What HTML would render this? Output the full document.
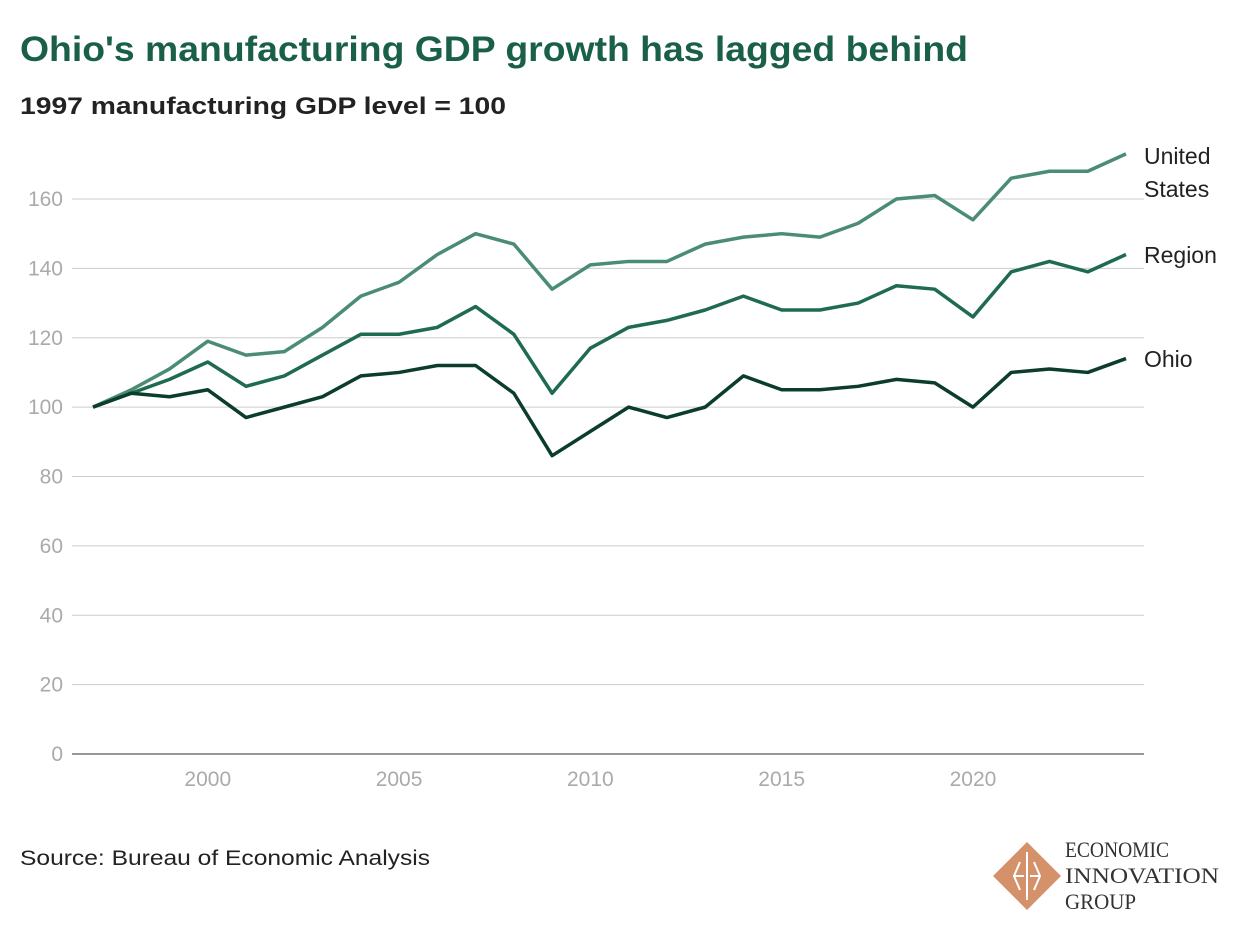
<!DOCTYPE html>
<html><head><meta charset="utf-8"><style>
body{margin:0;background:#fff;width:1240px;height:930px;overflow:hidden;font-family:"Liberation Sans",sans-serif}
</style></head><body>
<svg width="1240" height="930" xmlns="http://www.w3.org/2000/svg">
<text x="20" y="61" font-size="35" font-weight="bold" fill="#1a6048" textLength="948" lengthAdjust="spacingAndGlyphs">Ohio's manufacturing GDP growth has lagged behind</text>
<text x="20" y="114" font-size="24" font-weight="bold" fill="#222" textLength="486" lengthAdjust="spacingAndGlyphs">1997 manufacturing GDP level = 100</text>
<g id="grid"></g><g id="lines"></g>
<text x="20" y="865" font-size="21" fill="#222" textLength="410" lengthAdjust="spacingAndGlyphs">Source: Bureau of Economic Analysis</text>
<g>
<polygon points="1027,842 1061,876 1027,910 993,876" fill="#d4916a"/>
<path d="M1020,862 L1014,876 L1020,890 M1034,862 L1040,876 L1034,890 M1027,852 L1027,900 M1014,876 L1024,876 M1030,876 L1040,876" stroke="#fff" stroke-width="2" fill="none"/>
<text x="1065" y="857" font-family="Liberation Serif,serif" font-size="22" fill="#333" textLength="104" lengthAdjust="spacingAndGlyphs">ECONOMIC</text>
<text x="1065" y="883" font-family="Liberation Serif,serif" font-size="22" fill="#333" textLength="154" lengthAdjust="spacingAndGlyphs">INNOVATION</text>
<text x="1065" y="909" font-family="Liberation Serif,serif" font-size="22" fill="#333" textLength="71" lengthAdjust="spacingAndGlyphs">GROUP</text>
</g>
</svg>
<script>
const years=[1997,1998,1999,2000,2001,2002,2003,2004,2005,2006,2007,2008,2009,2010,2011,2012,2013,2014,2015,2016,2017,2018,2019,2020,2021,2022,2023,2024];
const usValues=[100,105,111,119,115,116,123,132,136,144,150,147,134,141,142,142,147,149,150,149,153,160,161,154,166,168,168,173];
const regionValues=[100,104,108,113,106,109,115,121,121,123,129,121,104,117,123,125,128,132,128,128,130,135,134,126,139,142,139,144];
const ohioValues=[100,104,103,105,97,100,103,109,110,112,112,104,86,93,100,97,100,109,105,105,106,108,107,100,110,111,110,114];
const yTicks=[0,20,40,60,80,100,120,140,160];
const xTicks=[2000,2005,2010,2015,2020];
const NS="http://www.w3.org/2000/svg";
const x=v=>93+(v-1997)*(1126-93)/27;
const y=v=>754-v*(754-199)/160;
function mk(t,a,p){const e=document.createElementNS(NS,t);for(const k in a)e.setAttribute(k,a[k]);p.appendChild(e);return e;}
const g=document.getElementById('grid'),L=document.getElementById('lines');
yTicks.forEach(v=>{
 const l=mk('line',{x1:72,x2:1144,y1:y(v),y2:y(v),stroke:v===0?'#777':'#ccc','stroke-width':v===0?1.5:1},g);
 
 
 const t=mk('text',{x:63,y:y(v)+7,'text-anchor':'end','font-size':21,fill:'#aaa'},g);t.textContent=v;
 
 
});
xTicks.forEach(v=>{
 const t=mk('text',{x:x(v),y:786,'text-anchor':'middle','font-size':21,fill:'#aaa'},g);t.textContent=v;
 
 
});
const series=[[usValues,'#4a8c74','us'],[regionValues,'#1f6b50','region'],[ohioValues,'#0b3d2a','ohio']];
series.forEach(s=>{
 const p=mk('polyline',{points:s[0].map((v,i)=>x(years[i])+','+y(v)).join(' '),fill:'none',stroke:s[1],'stroke-width':3.5,'stroke-linejoin':'round'},L);
 
 
});
const labels=[['United',164],['States',197],['Region',263],['Ohio',367]];
labels.forEach(a=>{
 const t=mk('text',{x:1144,y:a[1],'font-size':23,fill:'#222'},L);t.textContent=a[0];
 
 
});
</script>
</body></html>
